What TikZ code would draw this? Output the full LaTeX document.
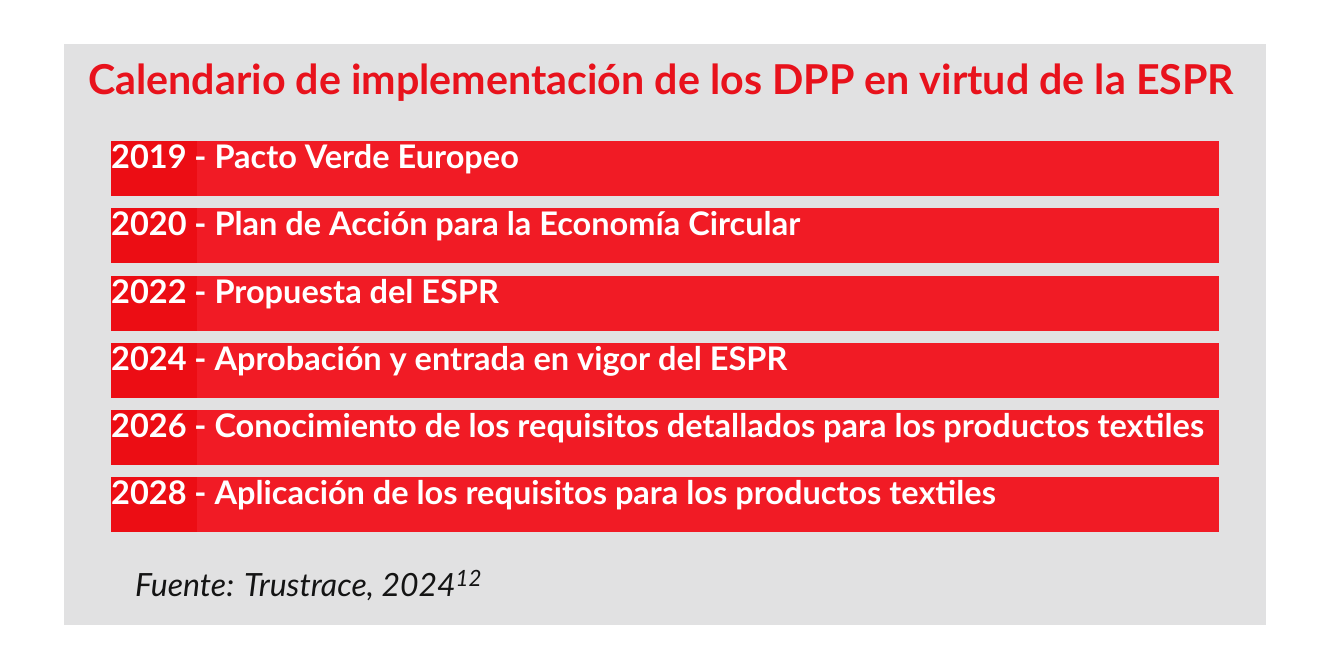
\documentclass[tikz,border=0pt]{standalone}
\usepackage{fontspec}
\setmainfont{Lato}
\definecolor{panel}{RGB}{225,225,226}
\definecolor{barred}{RGB}{241,27,37}
\definecolor{yearred}{RGB}{236,13,20}
\definecolor{titlered}{RGB}{232,18,28}
\definecolor{srcblack}{RGB}{20,20,20}
\tikzset{
  bar/.style={fill=barred, draw=none},
  yearbox/.style={fill=yearred, draw=none},
  bartext/.style={anchor=base west, inner sep=0pt, text=white, font=\bfseries\fontsize{32.5}{36}\selectfont},
  titletext/.style={anchor=base west, inner sep=0pt, text=titlered, font=\bfseries\fontsize{41.2}{46}\selectfont},
  srctext/.style={anchor=base west, inner sep=0pt, text=srcblack, font=\itshape\fontsize{32}{38}\selectfont}
}
\begin{document}
\begin{tikzpicture}[x=1pt,y=-1pt]
\useasboundingbox (0,0) rectangle (1330,670);
\fill[white] (0,0) rectangle (1330,670);
\fill[panel] (64,44) rectangle (1266,625);
\node[titletext] (title) at (88,94) {Calendario de implementación de los DPP en virtud de la ESPR};
\foreach \i/\top/\txt in {1/141/{2019 - Pacto Verde Europeo},
  2/208/{2020 - Plan de Acción para la Economía Circular},
  3/276/{2022 - Propuesta del ESPR},
  4/343/{2024 - Aprobación y entrada en vigor del ESPR},
  5/410/{2026 - Conocimiento de los requisitos detallados para los productos textiles},
  6/477/{2028 - Aplicación de los requisitos para los productos textiles}}{
  \fill[bar] (111,\top) rectangle (1219,\top+55);
  \fill[yearbox] (111,\top) rectangle (197,\top+55);
  \node[bartext] (t\i) at (111,\top+27) {\txt};
}
\node[srctext] (src) at (135,596) {Fuente: Trustrace, 2024\textsuperscript{12}};
\end{tikzpicture}
\end{document}
